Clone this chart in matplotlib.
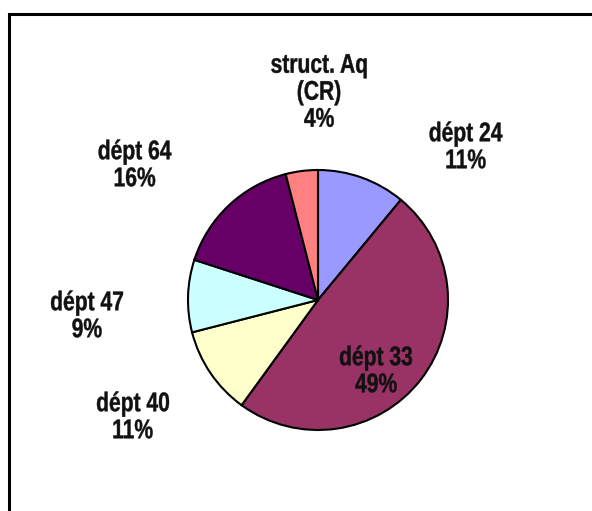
import matplotlib
matplotlib.use("Agg")
import matplotlib.pyplot as plt
from matplotlib.font_manager import FontProperties
from matplotlib.patches import PathPatch
from matplotlib.textpath import TextPath
from matplotlib.transforms import Affine2D

# share of each structure, clockwise from 12 o'clock
labels = ["dépt 24", "dépt 33", "dépt 40", "dépt 47", "dépt 64", "struct. Aq\n(CR)"]
shares = [11, 49, 11, 9, 16, 4]
colors = ["#9999FF", "#993366", "#FFFFCC", "#CCFFFF", "#660066", "#FF8080"]

# label block centres (pixel coords, origin top-left)
label_xy = [(466, 145), (376, 369), (133, 415), (87, 314), (135, 163), (319, 90)]

W, H = 592, 511
FONT = FontProperties(family="Liberation Sans", weight="bold")
TXT_PX = 27          # glyph size in pixels
SQUEEZE = 0.78       # narrow look of the original typeface
LINE_PX = 27


def narrow_text(ax, x, y, s, color="#111111"):
    """Centered multi-line text, horizontally squeezed, in pixel coords."""
    lines = s.split("\n")
    top = y - LINE_PX * (len(lines) - 1) / 2
    for i, ln in enumerate(lines):
        tp = TextPath((0, 0), ln, size=TXT_PX, prop=FONT)
        bb = tp.get_extents()
        w = bb.width * SQUEEZE
        yl = top + i * LINE_PX
        tr = (Affine2D().translate(-bb.x0, 0).scale(SQUEEZE, 1)
              .translate(x - w / 2, H - yl - 0.36 * TXT_PX))
        ax.add_patch(PathPatch(tr.transform_path(tp), fc=color, ec=color,
                               lw=0.3))


fig = plt.figure(figsize=(W / 100, H / 100), dpi=100)
ax = fig.add_axes([0, 0, 1, 1])

cx, cy, r = 318, 300, 130
ax.pie(shares, colors=colors, startangle=90, counterclock=False,
       center=(cx, H - cy), radius=r, frame=True,
       wedgeprops=dict(edgecolor="black", linewidth=1.5))
ax.set_xlim(0, W)
ax.set_ylim(0, H)
ax.set_aspect("equal")
ax.axis("off")

for lab, val, (x, y) in zip(labels, shares, label_xy):
    narrow_text(ax, x, y, f"{lab}\n{val}%")

# frame: only left and top edges visible
ax.plot([8.5, 8.5, W], [0, H - 13.5, H - 13.5], color="black", lw=2.2,
        solid_joinstyle="miter", clip_on=False)

fig.savefig("out.png", dpi=100)
